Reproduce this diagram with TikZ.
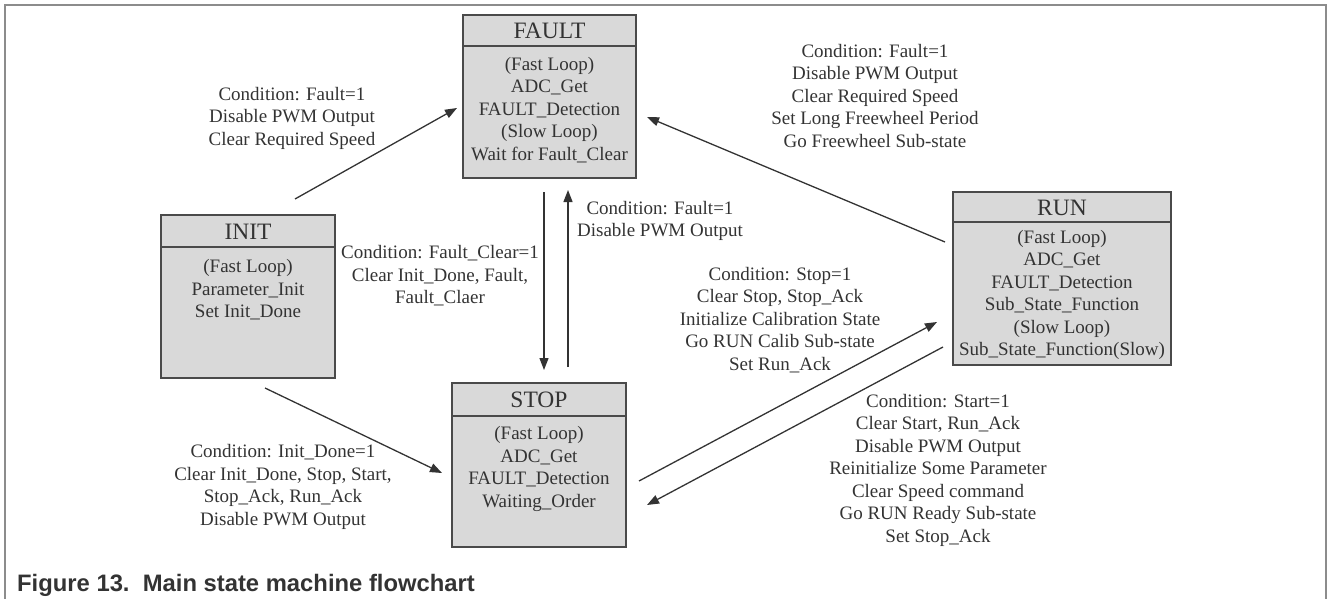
\documentclass[tikz,border=0pt]{standalone}
\usepackage{fontspec}
\setmainfont{Liberation Serif}
\newfontfamily\capfont{Liberation Sans}
\usetikzlibrary{arrows.meta}
\definecolor{boxfill}{HTML}{D9D9D9}
\definecolor{boxline}{HTML}{4A4A4A}
\definecolor{txt}{HTML}{333333}
\definecolor{framec}{HTML}{8C8C8C}
\begin{document}
\begin{tikzpicture}[x=1pt,y=-1pt,
  statebox/.style={draw=boxline, line width=1.8pt, fill=boxfill, rectangle, inner sep=0pt},
  divider/.style={draw=boxline, line width=1.8pt},
  ttl/.style={font=\fontsize{23.5}{26}\selectfont, text=txt, inner sep=0pt},
  body/.style={font=\fontsize{19}{22.5}\selectfont, align=center, text=txt, inner sep=0pt},
  lbl/.style={font=\fontsize{19}{22.5}\selectfont, align=center, text=txt, inner sep=0pt},
  conn/.style={draw=txt, line width=1.3pt, -{Triangle[length=12pt,width=9pt]}},
  framel/.style={draw=framec, line width=1.5pt}]
\useasboundingbox (0,0) rectangle (1328,599);
% frame
\coordinate (fbl) at (5,599);
\coordinate (ftl) at (5,5);
\coordinate (ftr) at (1326,5);
\coordinate (fbr) at (1326,599);
\draw[framel] (fbl) -- (ftl) -- (ftr) -- (fbr);
% state boxes
\node[statebox, minimum width=173pt, minimum height=163pt] (fault) at (549.5,96.5) {};
\node[statebox, minimum width=174pt, minimum height=163pt] (init) at (248,296.5) {};
\node[statebox, minimum width=174pt, minimum height=164pt] (stop) at (539,465) {};
\node[statebox, minimum width=218pt, minimum height=173pt] (run) at (1062,278.5) {};
% dividers
\draw[divider] (fault.north west) ++(0,32) -- ++(173,0);
\draw[divider] (init.north west) ++(0,33) -- ++(174,0);
\draw[divider] (stop.north west) ++(0,34) -- ++(174,0);
\draw[divider] (run.north west) ++(0,31) -- ++(218,0);
% titles
\node[ttl] (faultT) at (549.5,31) {FAULT};
\node[ttl] (initT) at (248,231.5) {INIT};
\node[ttl] (stopT) at (539,400) {STOP};
\node[ttl] (runT) at (1062,207.5) {RUN};
% bodies
\node[body] (faultB) at (549.5,110) {(Fast Loop)\\ADC\_Get\\FAULT\_Detection\\(Slow Loop)\\Wait for Fault\_Clear};
\node[body] (initB) at (248,290) {(Fast Loop)\\Parameter\_Init\\Set Init\_Done};
\node[body] (stopB) at (539,469) {(Fast Loop)\\ADC\_Get\\FAULT\_Detection\\Waiting\_Order};
\node[body] (runB) at (1062,295) {(Fast Loop)\\ADC\_Get\\FAULT\_Detection\\Sub\_State\_Function\\(Slow Loop)\\Sub\_State\_Function(Slow)};
% connector end points
\coordinate (a1s) at (295,199);  \coordinate (a1e) at (457,108);
\coordinate (a2s) at (265,388);  \coordinate (a2e) at (442,473);
\coordinate (a3s) at (544,192);  \coordinate (a3e) at (544,370);
\coordinate (a4s) at (568,367);  \coordinate (a4e) at (568,190);
\coordinate (a5s) at (945,242);  \coordinate (a5e) at (647,117);
\coordinate (a6s) at (639,481);  \coordinate (a6e) at (937,322);
\coordinate (a7s) at (943,347);  \coordinate (a7e) at (647,505);
\draw[conn] (a1s) -- (a1e);
\draw[conn] (a2s) -- (a2e);
\draw[conn] (a3s) -- (a3e);
\draw[conn] (a4s) -- (a4e);
\draw[conn] (a5s) -- (a5e);
\draw[conn] (a6s) -- (a6e);
\draw[conn] (a7s) -- (a7e);
% labels
\node[lbl] (l1) at (292,118) {Condition: Fault=1\\Disable PWM Output\\Clear Required Speed};
\node[lbl] (l2) at (283,487) {Condition: Init\_Done=1\\Clear Init\_Done, Stop, Start,\\Stop\_Ack, Run\_Ack\\Disable PWM Output};
\node[lbl] (l3) at (440,276) {Condition: Fault\_Clear=1\\Clear Init\_Done, Fault,\\Fault\_Claer};
\node[lbl] (l4) at (660,221) {Condition: Fault=1\\Disable PWM Output};
\node[lbl] (l5) at (875,96) {Condition: Fault=1\\Disable PWM Output\\Clear Required Speed\\Set Long Freewheel Period\\Go Freewheel Sub-state};
\node[lbl] (l6) at (780,320) {Condition: Stop=1\\Clear Stop, Stop\_Ack\\Initialize Calibration State\\Go RUN Calib Sub-state\\Set Run\_Ack};
\node[lbl] (l7) at (938,470) {Condition: Start=1\\Clear Start, Run\_Ack\\Disable PWM Output\\Reinitialize Some Parameter\\Clear Speed command\\Go RUN Ready Sub-state\\Set Stop\_Ack};
% caption
\node[anchor=base west, inner sep=0pt, text=txt, font=\capfont\bfseries\fontsize{23.8}{26}\selectfont] (cap) at (17,591) {Figure 13.\ \ Main state machine flowchart};
\end{tikzpicture}
\end{document}
